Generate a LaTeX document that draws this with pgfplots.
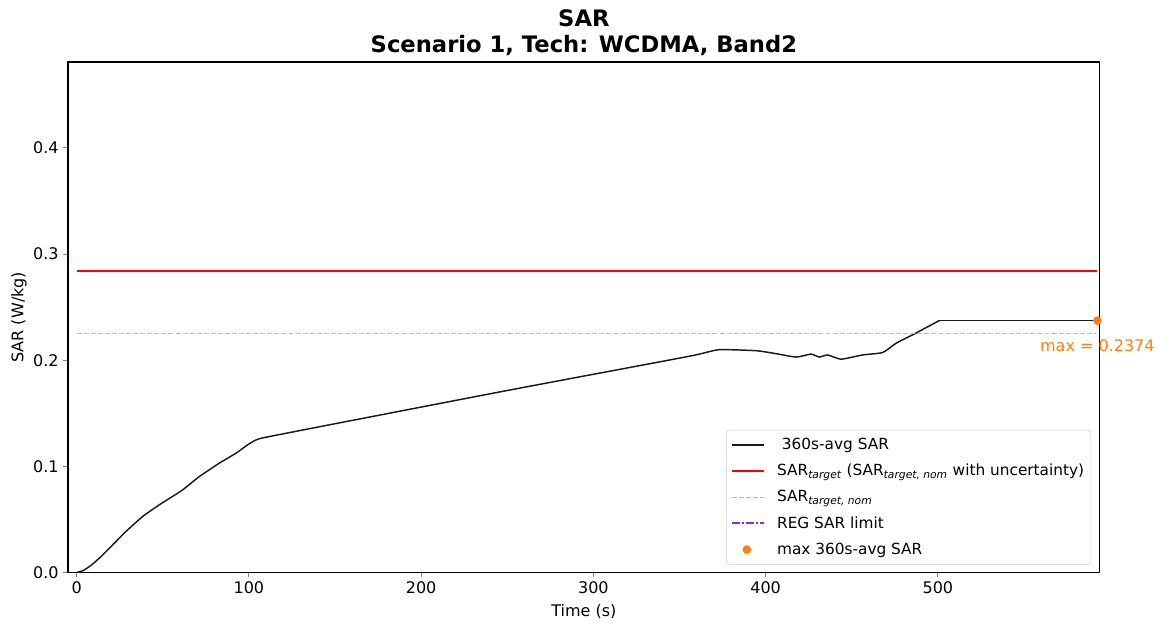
\documentclass[border=0pt]{standalone}
\usepackage{pgfplots}
\pgfplotsset{compat=1.18}
\usepackage{fontspec}
\setmainfont{DejaVu Sans}

\definecolor{saravg}{rgb}{0.1,0.1,0.1}
\definecolor{nomcol}{RGB}{238,192,40}
\definecolor{regcol}{RGB}{138,43,226}
\definecolor{maxcol}{RGB}{255,127,14}

\begin{document}
\begin{tikzpicture}
  \begin{axis}[
      name=ax,
      scale only axis,
      width=774pt, height=383pt,
      xmin=-5, xmax=594,
      ymin=0, ymax=0.481,
      xtick={0,100,200,300,400,500},
      ytick={0,0.1,0.2,0.3,0.4},
      yticklabel style={/pgf/number format/.cd,fixed,fixed zerofill,precision=1},
      /pgf/number format/assume math mode=true,
      scaled y ticks=false,
      tick align=outside,
      major tick length=3.5pt,
      xtick pos=bottom, ytick pos=left,
      axis line style={line width=0.8pt},
      tick style={line width=0.8pt},
      font=\fontsize{12}{14}\selectfont,
      title={SAR\\Scenario 1, Tech: WCDMA, Band2},
      title style={font=\bfseries\fontsize{17}{20}\selectfont, align=center, yshift=-5pt},
      xlabel={Time (s)},
      ylabel={SAR (W/kg)},
      xlabel style={yshift=-1pt},
      ylabel style={yshift=-2pt},
      clip=false,
      legend cell align=left,
      legend style={at={(1,0)}, anchor=south east, xshift=-6.5pt, yshift=6pt,
        draw=black!20, rounded corners=2pt, fill=white,
        font=\fontsize{11.5}{13.5}\selectfont, row sep=5.5pt, inner xsep=3pt, inner ysep=4pt},
      legend image code/.code={\draw[#1] (0cm,0cm) -- (0.85cm,0cm); \path (1.1cm,0cm);},
    ]

    % 360 s averaged SAR
    \addplot[forget plot, draw=saravg, line width=1.1pt, smooth, tension=0.3] coordinates {
      (0,0) (4,0.002) (8.5,0.0069) (13.5,0.014) (19.2,0.0232) (28.8,0.0389)
      (38.5,0.053) (48.2,0.064) (55,0.071) (61.7,0.078) (71.4,0.0906)
      (83,0.1032) (92.7,0.1126) (99,0.120) (104.3,0.125) (110,0.1275)
      (152.6,0.141) (250,0.1715) (350,0.202) (361.6,0.2058) (373.2,0.210)
      (394.5,0.209) (405,0.2065) (417.7,0.203) (426.4,0.2058) (431.2,0.203)
      (436,0.205) (443.8,0.201) (456.4,0.205) (468,0.2073) (475.7,0.216)
      (485.4,0.224) (500.9,0.2374)
    };
    \addplot[forget plot, draw=saravg, line width=1.1pt] coordinates {
      (500.9,0.2374) (592.6,0.2374)
    };
    % target lines
    \addplot[forget plot, draw=red, line width=1pt] coordinates {(0,0.284) (592.6,0.284)};
    \addplot[forget plot, draw=nomcol, line width=1pt, dash pattern=on 3.7pt off 1.6pt] coordinates {(0,0.2255) (592.6,0.2255)};
    % maximum
    \addplot[forget plot, only marks, mark=*, mark size=3pt, color=maxcol] coordinates {(592.6,0.2374)}
      node[pos=0, yshift=-19pt, text=maxcol, font=\fontsize{12}{14}\selectfont] {max = 0.2374};

    \addlegendimage{draw=saravg, line width=1.1pt}
    \addlegendentry{\ 360s-avg SAR}
    \addlegendimage{draw=red, line width=1pt}
    \addlegendentry{SAR\textsubscript{\itshape target} (SAR\textsubscript{\itshape target, nom} with uncertainty)}
    \addlegendimage{draw=nomcol, line width=1pt, dash pattern=on 3.7pt off 1.6pt}
    \addlegendentry{SAR\textsubscript{\itshape target, nom}}
    \addlegendimage{draw=regcol, line width=1.6pt, dash pattern=on 6.4pt off 1.6pt on 1pt off 1.6pt}
    \addlegendentry{REG SAR limit}
    \addlegendimage{legend image code/.code={\fill[maxcol] (0.4cm,0cm) circle (3pt); \path (1.1cm,0cm);}}
    \addlegendentry{max 360s-avg SAR}
  \end{axis}
  \path ([shift={(-51pt,-38pt)}]ax.south west) rectangle ([shift={(44pt,46.5pt)}]ax.north east);
\end{tikzpicture}
\end{document}
